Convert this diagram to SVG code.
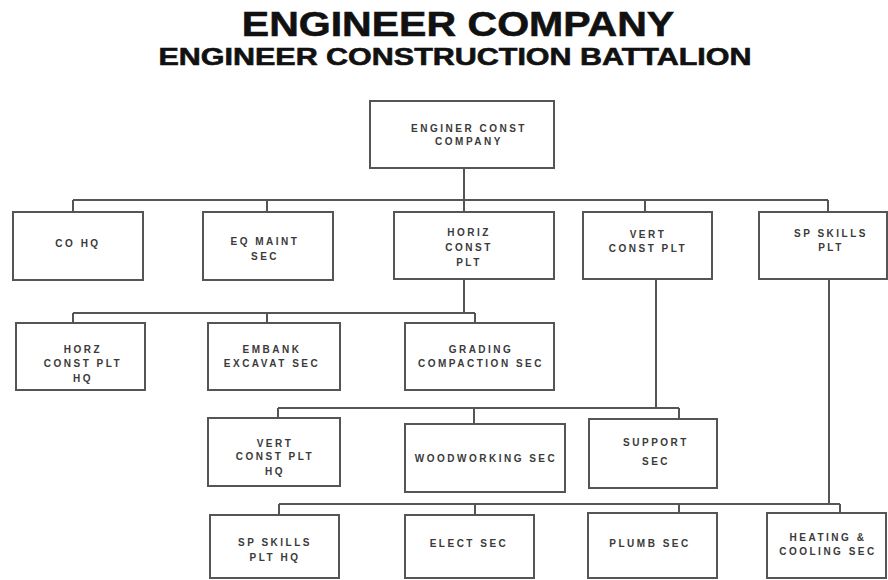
<svg xmlns="http://www.w3.org/2000/svg" width="888" height="580" viewBox="0 0 888 580">
<style>
.box{fill:#fff;stroke:#555;stroke-width:2}
.lbl{font-family:"Liberation Sans",Arial,sans-serif;font-size:10px;font-weight:bold;fill:#3a3a3a;letter-spacing:2.5px;text-anchor:middle}
.title{font-family:"Liberation Sans",Arial,sans-serif;font-weight:bold;fill:#111;stroke:#111;stroke-width:0.6;text-anchor:middle}
#connectors path{fill:none;stroke:#555;stroke-width:2}
</style>
<rect width="888" height="580" fill="#fff"/>
<text class="title" transform="translate(458,36) scale(1.14,1)" font-size="36">ENGINEER COMPANY</text>
<text class="title" transform="translate(455,65) scale(1.27,1)" font-size="24">ENGINEER CONSTRUCTION BATTALION</text>

<g id="connectors">
<path d="M464 168V200M73 200H828M73 200V212M267 200V212M464 200V212M645 200V212M828 200V212"/>
<path d="M464 279V313M73 313H475M73 313V323M267 313V323M475 313V323"/>
<path d="M656 279V408M278 408H679M278 408V418M474 408V424M679 408V419"/>
<path d="M829 279V504M279 504H840M279 504V515M475 504V515M679 504V513M840 504V513"/>
</g>

<g id="n_company"><rect class="box" x="370" y="101" width="184" height="67"/>
<text class="lbl" x="469" y="132">ENGINER CONST</text><text class="lbl" x="469" y="145">COMPANY</text></g>

<g id="n_cohq"><rect class="box" x="13" y="212" width="130" height="68"/>
<text class="lbl" x="78" y="247">CO HQ</text></g>
<g id="n_eqmaint"><rect class="box" x="203" y="212" width="130" height="68"/>
<text class="lbl" x="265" y="245">EQ MAINT</text><text class="lbl" x="265" y="260">SEC</text></g>
<g id="n_horz"><rect class="box" x="394" y="212" width="160" height="67"/>
<text class="lbl" x="469" y="236">HORIZ</text><text class="lbl" x="469" y="251">CONST</text><text class="lbl" x="469" y="266">PLT</text></g>
<g id="n_vert"><rect class="box" x="583" y="212" width="129" height="67"/>
<text class="lbl" x="648" y="238">VERT</text><text class="lbl" x="648" y="252">CONST PLT</text></g>
<g id="n_spskills"><rect class="box" x="759" y="212" width="128" height="67"/>
<text class="lbl" x="831" y="237">SP SKILLS</text><text class="lbl" x="831" y="251">PLT</text></g>

<g id="n_horzhq"><rect class="box" x="16" y="323" width="129" height="67"/>
<text class="lbl" x="83" y="353">HORZ</text><text class="lbl" x="83" y="367">CONST PLT</text><text class="lbl" x="83" y="382">HQ</text></g>
<g id="n_embank"><rect class="box" x="208" y="323" width="132" height="67"/>
<text class="lbl" x="272" y="353">EMBANK</text><text class="lbl" x="272" y="367">EXCAVAT SEC</text></g>
<g id="n_grading"><rect class="box" x="405" y="323" width="149" height="67"/>
<text class="lbl" x="481" y="353">GRADING</text><text class="lbl" x="481" y="367">COMPACTION SEC</text></g>

<g id="n_verthq"><rect class="box" x="208" y="418" width="132" height="68"/>
<text class="lbl" x="275" y="447">VERT</text><text class="lbl" x="275" y="460">CONST PLT</text><text class="lbl" x="275" y="475">HQ</text></g>
<g id="n_wood"><rect class="box" x="405" y="424" width="160" height="68"/>
<text class="lbl" x="486" y="462">WOODWORKING SEC</text></g>
<g id="n_support"><rect class="box" x="589" y="419" width="128" height="69"/>
<text class="lbl" x="656" y="446">SUPPORT</text><text class="lbl" x="656" y="465">SEC</text></g>

<g id="n_sphq"><rect class="box" x="210" y="515" width="129" height="63"/>
<text class="lbl" x="275" y="546">SP SKILLS</text><text class="lbl" x="275" y="561">PLT HQ</text></g>
<g id="n_elect"><rect class="box" x="405" y="515" width="129" height="63"/>
<text class="lbl" x="469" y="547">ELECT SEC</text></g>
<g id="n_plumb"><rect class="box" x="588" y="513" width="129" height="65"/>
<text class="lbl" x="650" y="547">PLUMB SEC</text></g>
<g id="n_heating"><rect class="box" x="767" y="513" width="119" height="65"/>
<text class="lbl" x="828" y="541">HEATING &amp;</text><text class="lbl" x="828" y="555">COOLING SEC</text></g>
</svg>
